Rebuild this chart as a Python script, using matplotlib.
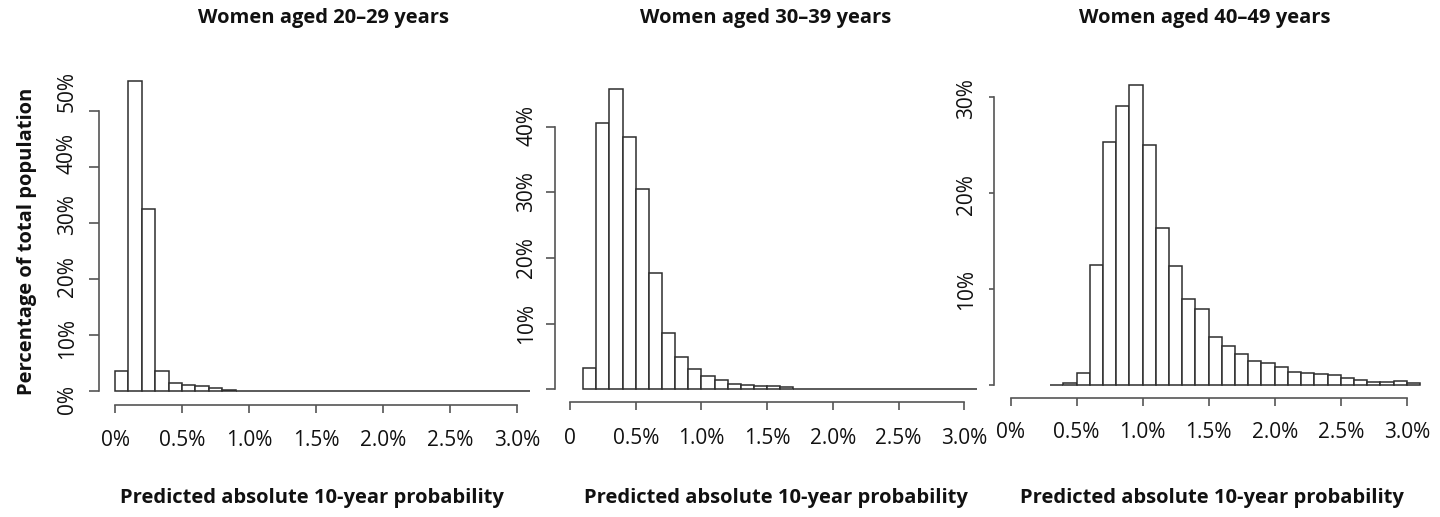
import numpy as np
import matplotlib
matplotlib.use("Agg")
import matplotlib.pyplot as plt

# ---------------- data ----------------
titles = ["Women aged 20\u201329 years", "Women aged 30\u201339 years", "Women aged 40\u201349 years"]
xlabel = "Predicted absolute 10-year probability"
ylabel = "Percentage of total population"

bin_width = 0.1  # percentage points

# panel 1 (20-29): bins start at 0.0%
start_20s = 0.0
pct_20s = [3.57, 55.4, 32.5, 3.57, 1.49, 1.13, 0.89, 0.54, 0.18, 0.0,
           0.0, 0.0, 0.0, 0.0, 0.0, 0.0, 0.0, 0.0, 0.0, 0.0,
           0.0, 0.0, 0.0, 0.0, 0.0, 0.0, 0.0, 0.0, 0.0, 0.0, 0.0]

# panel 2 (30-39): bins start at 0.1%
start_30s = 0.1
pct_30s = [3.2, 40.5, 45.8, 38.4, 30.5, 17.7, 8.5, 4.87, 3.05, 2.08,
           1.37, 0.81, 0.61, 0.46, 0.46, 0.3, 0.12, 0.12, 0.12, 0.12,
           0.12, 0.02, 0.12, 0.02, 0.12, 0.0, 0.0, 0.0, 0.0, 0.0]

# panel 3 (40-49): bins start at 0.3%
start_40s = 0.3
pct_40s = [0.0, 0.2, 1.3, 12.5, 25.3, 29.1, 31.3, 25.0, 16.4, 12.4,
           9.0, 7.9, 5.07, 4.1, 3.2, 2.47, 2.36, 1.94, 1.42, 1.32,
           1.18, 1.08, 0.8, 0.55, 0.38, 0.38, 0.4, 0.27]

x_ticks = [0.0, 0.5, 1.0, 1.5, 2.0, 2.5, 3.0]
x_labels_a = ["0%", "0.5%", "1.0%", "1.5%", "2.0%", "2.5%", "3.0%"]
x_labels_b = ["0", "0.5%", "1.0%", "1.5%", "2.0%", "2.5%", "3.0%"]
y_ticks_20s = [0, 10, 20, 30, 40, 50]
y_ticks_30s = [0, 10, 20, 30, 40]
y_ticks_40s = [0, 10, 20, 30]
y_labels_20s = ["0%", "10%", "20%", "30%", "40%", "50%"]
y_labels_30s = ["10%", "20%", "30%", "40%"]
y_ticks_30s_lab = [10, 20, 30, 40]
y_labels_40s = ["10%", "20%", "30%"]
y_ticks_40s_lab = [10, 20, 30]

# ---------------- layout / style ----------------
W, H = 1440, 517
FONT = "Open Sans"
TXT = "#111111"
BAR_EC = "#2e2e2e"
AX_C = "#555555"
TICK_FS = 15

plt.rcParams["font.family"] = [FONT, "DejaVu Sans"]

fig = plt.figure(figsize=(W / 100, H / 100), dpi=100)

panels = [
    dict(start=start_20s, vals=pct_20s, yt=y_ticks_20s, ytl=y_ticks_20s, yl=y_labels_20s,
         xl=x_labels_a, x0=115, kx=134.0, y0=391, ky=5.6, yspine=99, xspine=405,
         box=(86, 55, 545, 425), ylab_x=67.3, lab0=400, labk=6.17, ytick_len=10, xtick_len=8, xpad=12.5),
    dict(start=start_30s, vals=pct_30s, yt=y_ticks_30s, ytl=y_ticks_30s_lab, yl=y_labels_30s,
         xl=x_labels_b, x0=570, kx=131.4, y0=389.3, ky=6.566, yspine=555, xspine=401.7,
         box=(540, 55, 990, 425), ylab_x=526.7, lab0=389.8, labk=6.6, ytick_len=9, xtick_len=8, xpad=13.5),
    dict(start=start_40s, vals=pct_40s, yt=y_ticks_40s, ytl=y_ticks_40s_lab, yl=y_labels_40s,
         xl=x_labels_a, x0=1010.5, kx=132.1, y0=385.2, ky=9.6, yspine=993.5, xspine=397.7,
         box=(982, 55, 1435, 425), ylab_x=966.7, lab0=385.5, labk=9.55, ytick_len=5, xtick_len=8, xpad=12),
]

for p in panels:
    L, T, R, B = p["box"]
    ax = fig.add_axes([L / W, (H - B) / H, (R - L) / W, (B - T) / H])
    ax.set_facecolor("none")
    ax.set_xlim((L - p["x0"]) / p["kx"], (R - p["x0"]) / p["kx"])
    ax.set_ylim((p["y0"] - B) / p["ky"], (p["y0"] - T) / p["ky"])

    vals = np.asarray(p["vals"], dtype=float)
    lefts = p["start"] + bin_width * np.arange(len(vals))
    ax.bar(lefts, vals, width=bin_width, align="edge", facecolor="white",
           edgecolor=BAR_EC, linewidth=1.1, clip_on=False)

    for s in ("top", "right"):
        ax.spines[s].set_visible(False)
    ax.spines["left"].set_position(("data", (p["yspine"] - p["x0"]) / p["kx"]))
    ax.spines["left"].set_bounds(p["yt"][0], p["yt"][-1])
    ax.spines["bottom"].set_position(("data", (p["y0"] - p["xspine"]) / p["ky"]))
    ax.spines["bottom"].set_bounds(x_ticks[0], x_ticks[-1])
    for s in ("left", "bottom"):
        ax.spines[s].set_color(AX_C)
        ax.spines[s].set_linewidth(1.2)

    ax.set_yticks(p["yt"])
    ax.set_yticklabels([])
    ax.tick_params(axis="y", direction="out", length=p["ytick_len"] * 0.72,
                   width=1.2, color=AX_C)
    ax.set_xticks(x_ticks)
    ax.set_xticklabels(p["xl"], fontsize=TICK_FS, color=TXT)
    ax.tick_params(axis="x", direction="out", length=p["xtick_len"] * 0.72,
                   width=1.2, color=AX_C, pad=p["xpad"])

    for v, lab in zip(p["ytl"], p["yl"]):
        py = p["lab0"] - p["labk"] * v
        fig.text(p["ylab_x"] / W, 1 - py / H, lab, rotation=90, ha="center", va="center",
                 fontsize=TICK_FS, color=TXT)

title_pos = [(323, 18), (766, 18), (1205, 18)]
xlab_pos = [(311.7, 498), (776, 498), (1212, 498)]
for t, (tx, ty), (lx, ly) in zip(titles, title_pos, xlab_pos):
    fig.text(tx / W, 1 - ty / H, t, ha="center", va="center", fontsize=14.5,
             fontweight="bold", color=TXT)
    fig.text(lx / W, 1 - ly / H, xlabel, ha="center", va="center", fontsize=14.5,
             fontweight="bold", color=TXT)

fig.text(27 / W, 1 - 241 / H, ylabel, rotation=90, ha="center", va="center",
         fontsize=14.5, fontweight="bold", color=TXT)

fig.savefig("out.png", dpi=100, facecolor="white")
